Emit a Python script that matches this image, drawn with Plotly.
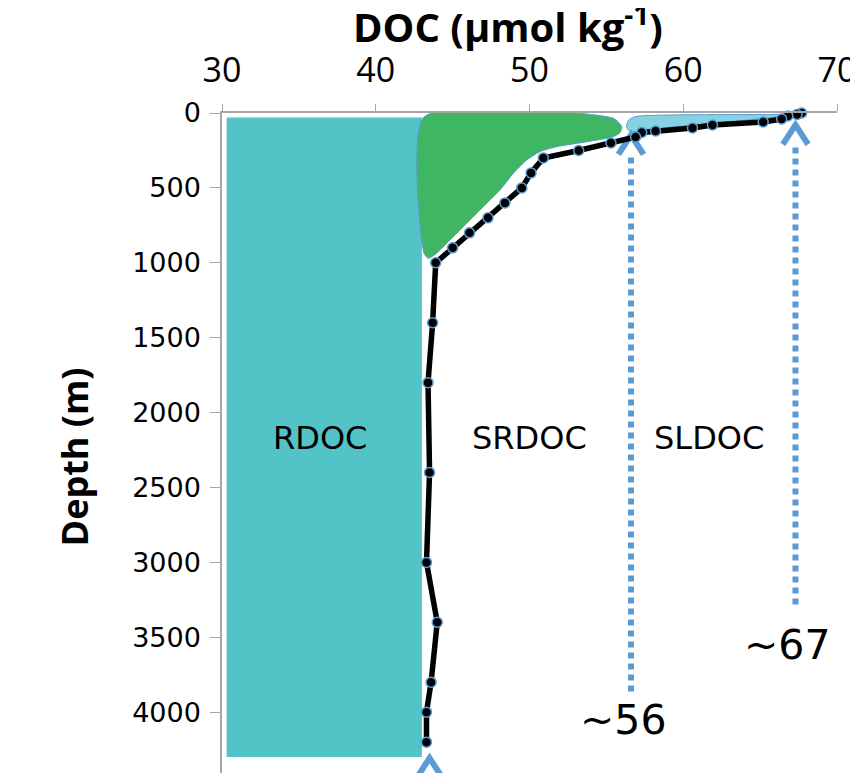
import plotly.graph_objects as go

# ---- data ----
depth_m = [0, 10, 20, 40, 60, 80, 100, 120, 130, 160, 200, 250, 300, 400, 500, 600,
           700, 800, 900, 1000, 1400, 1800, 2400, 3000, 3400, 3800, 4000, 4200]
doc_umol = [67.7, 67.4, 66.8, 66.4, 65.2, 61.9, 60.6, 58.2, 57.3, 56.9, 55.3, 53.2, 50.9,
            50.1, 49.5, 48.4, 47.3, 46.1, 45.0, 43.9, 43.7, 43.4, 43.5, 43.3, 44.0, 43.6,
            43.3, 43.3]

# RDOC block (x extent, depth extent)
rdoc_x = [30.3, 43.0]
rdoc_depth = [30, 4300]

# SRDOC (green) outline
srdoc_x = [43.14, 55.45, 56.0, 55.89, 55.45, 53.72, 51.77, 50.68, 49.82, 48.95, 48.08,
           47.0, 45.92, 44.83, 43.96, 43.42, 43.14, 43.14]
srdoc_depth = [27, 35, 91, 131, 158, 192, 225, 258, 314, 403, 514, 625, 736, 848, 937,
               970, 937, 27]

# SLDOC (light blue) outline
sldoc_x = [56.3, 56.5, 57.0, 65.43, 66.94, 66.08, 63.69, 60.44, 58.27, 57.0, 56.45, 56.3]
sldoc_depth = [90, 42, 22, 10, 10, 25, 52, 82, 106, 124, 116, 90]

# region labels
region_names = ["RDOC", "SRDOC", "SLDOC"]
region_x = [36.4, 50.0, 61.7]
region_depth = [2170, 2170, 2170]

# threshold arrows
arrow_x = [56.6, 67.3, 43.5]
arrow_top = [147, 80, 4306]
arrow_bottom = [3880, 3284, None]
arrow_text = ["~56", "~67"]
arrow_text_x = [56.1, 66.75]
arrow_text_depth = [4052, 3551]

x_ticks = [30, 40, 50, 60, 70]
y_ticks = [0, 500, 1000, 1500, 2000, 2500, 3000, 3500, 4000]

CYAN = "#52C3C6"
GREEN = "#3FB661"
LBLUE = "#86D2E1"
ABLUE = "#5B9BD5"

fig = go.Figure()

fig.add_trace(go.Scatter(
    x=[rdoc_x[0], rdoc_x[1], rdoc_x[1], rdoc_x[0], rdoc_x[0]],
    y=[rdoc_depth[0], rdoc_depth[0], rdoc_depth[1], rdoc_depth[1], rdoc_depth[0]],
    fill="toself", fillcolor=CYAN, line=dict(width=0), mode="lines",
    hoverinfo="skip", showlegend=False))

fig.add_trace(go.Scatter(
    x=srdoc_x, y=srdoc_depth, fill="toself", fillcolor=GREEN,
    line=dict(color=ABLUE, width=1, shape="spline", smoothing=0.6), mode="lines",
    hoverinfo="skip", showlegend=False))

fig.add_trace(go.Scatter(
    x=sldoc_x, y=sldoc_depth, fill="toself", fillcolor=LBLUE,
    line=dict(color=ABLUE, width=1, shape="spline", smoothing=0.6), mode="lines",
    hoverinfo="skip", showlegend=False))

# arrows
dy = 130
dx = 0.82
for i, ax in enumerate(arrow_x):
    top = arrow_top[i]
    if arrow_bottom[i] is not None:
        fig.add_trace(go.Scatter(
            x=[ax, ax], y=[top + 150, arrow_bottom[i]], mode="lines",
            line=dict(color=ABLUE, width=6, dash="6px,5px"),
            hoverinfo="skip", showlegend=False))
    fig.add_trace(go.Scatter(
        x=[ax - dx, ax, ax + dx], y=[top + dy, top, top + dy], mode="lines",
        line=dict(color=ABLUE, width=6), hoverinfo="skip", showlegend=False))

fig.add_trace(go.Scatter(
    x=doc_umol, y=depth_m, mode="lines+markers",
    line=dict(color="black", width=5.5),
    marker=dict(color="black", size=10, line=dict(color=ABLUE, width=1.5)),
    cliponaxis=False, hoverinfo="skip", showlegend=False))

for name, rx, ry in zip(region_names, region_x, region_depth):
    fig.add_annotation(x=rx, y=ry, text=name, showarrow=False,
                       font=dict(family="DejaVu Sans", size=32, color="black"))

for t, tx, ty in zip(arrow_text, arrow_text_x, arrow_text_depth):
    fig.add_annotation(x=tx, y=ty, text=t, showarrow=False,
                       font=dict(family="DejaVu Sans", size=41, color="black"))

# axis titles
fig.add_annotation(xref="paper", yref="paper", x=0.465, y=1, yshift=89,
                   xanchor="center", yanchor="middle",
                   text="<b>DOC (µmol kg<sup>-1</sup>)</b>", showarrow=False,
                   font=dict(family="Open Sans", size=40, color="black"))
fig.add_annotation(xref="paper", yref="paper", x=0, xshift=-147, y=0.478,
                   xanchor="center", yanchor="middle",
                   text="<b>Depth (m)</b>", showarrow=False, textangle=-90,
                   font=dict(family="Open Sans", size=36, color="black"))

# page body has an 8px margin: figure is 850x765 placed at (8, 8)
fig.update_layout(
    width=850, height=765,
    margin=dict(l=214, r=21, t=105, b=0, autoexpand=False),
    plot_bgcolor="white", paper_bgcolor="white",
    xaxis=dict(side="top", range=[30, 70], tickvals=x_ticks, ticks="outside",
               ticklen=7, tickcolor="#A6A6A6", showline=True, linecolor="#A6A6A6",
               linewidth=1.5, showgrid=False, zeroline=False, ticklabelstandoff=9,
               tickfont=dict(family="Open Sans", size=34, color="black")),
    yaxis=dict(range=[4406, 0], tickvals=y_ticks, ticks="outside", ticklen=10,
               tickcolor="#A6A6A6", showline=True, linecolor="#A6A6A6", linewidth=1.5,
               showgrid=False, zeroline=False, ticklabelstandoff=4,
               tickfont=dict(family="DejaVu Sans", size=27, color="black")),
)

fig.write_html("out.html")
